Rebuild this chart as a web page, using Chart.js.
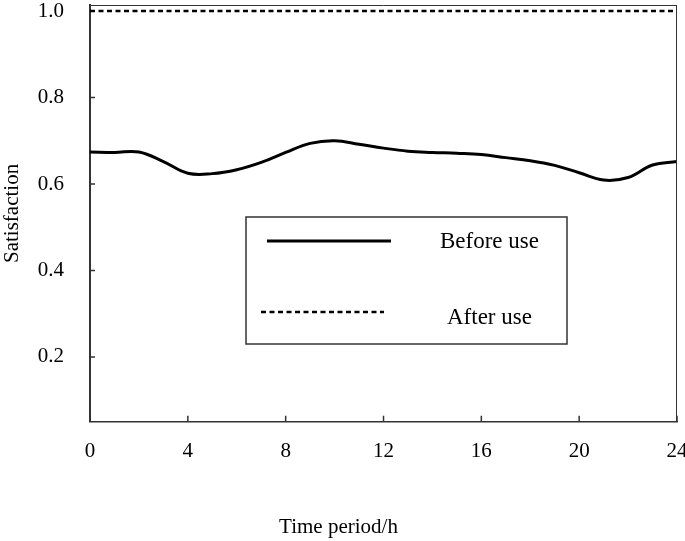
<!DOCTYPE html>
<html lang="en">
<head>
<meta charset="UTF-8">
<title>Satisfaction before and after use</title>
<script src="https://cdn.jsdelivr.net/npm/chart.js@4"></script>
<style>
  html, body { margin: 0; padding: 0; background: #fff; }
</style>
</head>
<body>
<canvas id="chart" width="685" height="541"></canvas>
<script>
// data
const hours = [0, 1, 2, 3, 4, 5, 6, 7, 8, 9, 10, 11, 12, 13, 14, 15, 16, 17, 18, 19, 20, 21, 22, 23, 24];
const beforeUse = [0.674, 0.673, 0.674, 0.652, 0.625, 0.624, 0.633, 0.650, 0.673, 0.694, 0.700, 0.692, 0.683,
                   0.676, 0.673, 0.671, 0.668, 0.661, 0.654, 0.643, 0.626, 0.609, 0.615, 0.644, 0.652];
const afterHours = [0, 24];
const afterUse = [1.0, 1.0];
const xTicks = [0, 4, 8, 12, 16, 20, 24];
const yTicks = [0.2, 0.4, 0.6, 0.8, 1.0];

const serif = "'Liberation Serif', 'Times New Roman', serif";
const ink = '#000';
const axisColor = '#333';

// top/right border and the small inward tick marks
const framePlugin = {
    id: 'frame',
    afterDatasetsDraw(chart) {
        const { ctx, chartArea: a, scales: { x, y } } = chart;
        ctx.save();
        ctx.strokeStyle = axisColor;
        ctx.lineWidth = 1;
        ctx.beginPath();
        ctx.moveTo(a.left, a.top + 0.5);
        ctx.lineTo(a.right, a.top + 0.5);
        ctx.moveTo(a.right - 0.5, a.top);
        ctx.lineTo(a.right - 0.5, a.bottom);
        ctx.stroke();

        ctx.lineWidth = 1.5;
        ctx.beginPath();
        x.ticks.forEach(t => {
            const px = x.getPixelForValue(t.value);
            ctx.moveTo(px, a.bottom);
            ctx.lineTo(px, a.bottom - 6);
        });
        y.ticks.forEach(t => {
            if (t.value >= 1) return;
            const py = y.getPixelForValue(t.value);
            ctx.moveTo(a.left, py);
            ctx.lineTo(a.left + 5, py);
        });
        ctx.stroke();
        ctx.restore();
    }
};

// boxed legend inside the plot, samples on the left, names on the right
const boxLegend = {
    id: 'boxLegend',
    afterDraw(chart) {
        const { ctx, chartArea: a } = chart;
        const bx = a.left + 156, by = a.top + 212, bw = 321, bh = 127;
        ctx.save();
        ctx.strokeStyle = '#333';
        ctx.lineWidth = 1.5;
        ctx.strokeRect(bx, by, bw, bh);

        const rows = [
            { x0: a.left + 177, x1: a.left + 301, y: a.top + 236, ty: a.top + 237 },
            { x0: a.left + 171, x1: a.left + 294, y: a.top + 307, ty: a.top + 313 }
        ];
        chart.data.datasets.forEach((ds, i) => {
            const r = rows[i];
            ctx.strokeStyle = ds.borderColor;
            ctx.lineWidth = ds.borderWidth;
            ctx.setLineDash(ds.borderDash || []);
            ctx.beginPath();
            ctx.moveTo(r.x0, r.y);
            ctx.lineTo(r.x1, r.y);
            ctx.stroke();
            ctx.setLineDash([]);
            ctx.fillStyle = ink;
            ctx.font = '23px ' + serif;
            ctx.textAlign = 'left';
            ctx.textBaseline = 'middle';
            ctx.fillText(ds.label, a.left + 350 + (i ? 7 : 0), r.ty);
        });
        ctx.restore();
    }
};

const chart = new Chart(document.getElementById('chart'), {
    type: 'line',
    data: {
        datasets: [{
            label: 'Before use',
            data: hours.map((h, i) => ({ x: h, y: beforeUse[i] })),
            borderColor: ink,
            borderWidth: 3,
            pointRadius: 0,
            tension: 0.4,
            fill: false
        }, {
            label: 'After use',
            data: afterHours.map((h, i) => ({ x: h, y: afterUse[i] })),
            borderColor: ink,
            borderWidth: 2.5,
            borderDash: [5, 3.5],
            pointRadius: 0,
            fill: false
        }]
    },
    options: {
        responsive: false,
        animation: false,
        devicePixelRatio: 1,
        layout: { padding: { top: 5, right: 8, left: 0, bottom: 0 } },
        plugins: {
            legend: { display: false },
            tooltip: { enabled: false },
            title: {
                display: true,
                position: 'bottom',
                text: 'Time period/h',
                color: ink,
                font: { family: serif, size: 21, weight: 'normal' },
                padding: { top: 0, bottom: 1 }
            }
        },
        scales: {
            x: {
                type: 'linear',
                min: 0,
                max: 24,
                afterBuildTicks: s => { s.ticks = xTicks.map(v => ({ value: v })); },
                afterFit: s => { s.height = 93; s.paddingLeft = 0; s.paddingRight = 0; },
                grid: { display: false, drawTicks: false },
                border: { display: true, color: axisColor, width: 1.5 },
                ticks: {
                    color: ink,
                    padding: 17,
                    font: { family: serif, size: 21 }
                }
            },
            y: {
                min: 0.05,
                max: 1.014,
                afterBuildTicks: s => { s.ticks = yTicks.map(v => ({ value: v })); },
                afterFit: s => { s.width = 90; s.paddingTop = 0; s.paddingBottom = 0; },
                grid: { display: false, drawTicks: false },
                border: { display: true, color: axisColor, width: 2 },
                title: {
                    display: true,
                    text: 'Satisfaction',
                    color: ink,
                    font: { family: serif, size: 21 },
                    padding: { top: 0, bottom: 0 }
                },
                ticks: {
                    color: ink,
                    padding: 26,
                    font: { family: serif, size: 21 },
                    callback: v => v.toFixed(1)
                }
            }
        }
    },
    plugins: [framePlugin, boxLegend]
});
</script>
</body>
</html>
